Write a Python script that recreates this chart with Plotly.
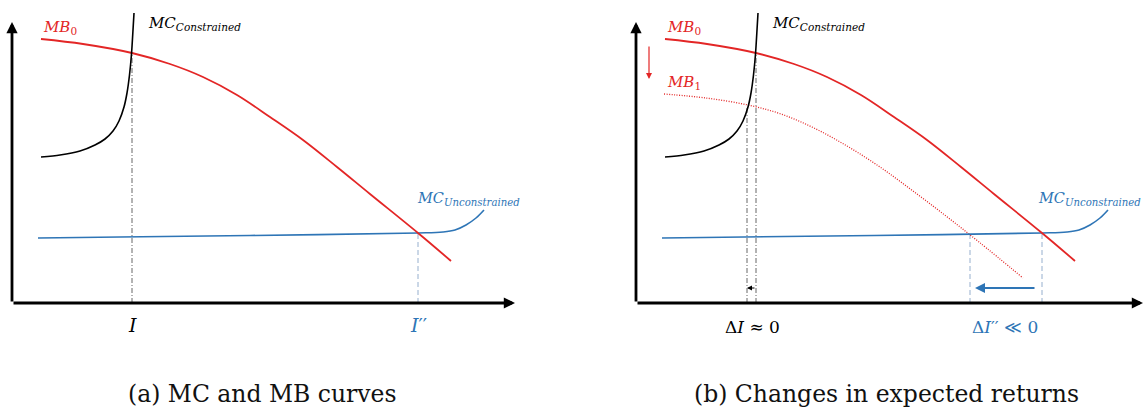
import plotly.graph_objects as go

# ---------------- data (x: investment units, y: value units) ----------------
mc_con_x = [2.9, 4.8, 6.8, 8.3, 9.3, 10.1, 10.7, 11.2, 11.5, 11.75, 11.95, 12.1, 12.2]
mc_con_y = [14.6, 14.8, 15.2, 15.8, 16.4, 17.2, 18.2, 19.6, 21.0, 22.8, 24.9, 27.3, 29.0]

mb0_x = [2.9, 7.1, 12.0, 15.8, 19.1, 22.5, 25.8, 29.1, 32.5, 35.8, 40.6, 43.9]
mb0_y = [26.4, 25.9, 25.0, 23.9, 22.6, 20.8, 18.6, 16.3, 13.6, 10.9, 7.0, 4.2]

mb1_x = [2.8, 7.0, 11.2, 14.5, 17.8, 21.1, 24.4, 27.7, 31.0, 34.3, 38.7]
mb1_y = [20.9, 20.5, 19.8, 18.9, 17.5, 15.7, 13.6, 11.2, 8.7, 6.1, 2.5]

mc_unc_x = [2.6, 10.8, 23.8, 40.6, 43.1, 44.3, 45.4, 46.4, 47.2]
mc_unc_y = [6.5, 6.6, 6.75, 7.0, 7.1, 7.3, 7.8, 8.5, 9.3]

I_a, I_b = 12.0, 11.1          # constrained equilibria (MB0, MB1)
Ipp_a, Ipp_b = 40.6, 33.4      # unconstrained equilibria (MB0, MB1)
mb_at_I_a, mb_at_I_b = 25.0, 19.7
mc_level = 7.0

x_axis_end = [50.3, 50.7]
y_axis_end = 28.1

captions = ["(a) MC and MB curves", "(b) Changes in expected returns"]

RED = "#E32626"
BLUE = "#2E75B6"
BLUE_GUIDE = "#8AA6C8"
GUIDE = "#555555"
SERIF = "DejaVu Serif"

fig = go.Figure()

def line(x, y, color, width, dash="solid", xa="x", ya="y", shape="spline", smooth=1.0):
    fig.add_trace(go.Scatter(x=x, y=y, mode="lines", xaxis=xa, yaxis=ya,
                             line=dict(color=color, width=width, dash=dash, shape=shape,
                                       smoothing=smooth if shape == "spline" else None),
                             hoverinfo="skip", showlegend=False))

DASHDOT = "5px,2px,1px,2px"
DASH = "5px,3px"
DOT = "1px,1.5px"

for k, (xa, ya) in enumerate([("x", "y"), ("x2", "y2")]):
    # guides
    line([I_a, I_a], [0, mb_at_I_a], GUIDE, 0.9, DASHDOT, xa, ya, "linear")
    line([Ipp_a, Ipp_a], [0, mc_level], BLUE_GUIDE, 0.9, DASH, xa, ya, "linear")
    if k == 1:
        line([I_b, I_b], [0, mb_at_I_b], GUIDE, 0.9, DASHDOT, xa, ya, "linear")
        line([Ipp_b, Ipp_b], [0, mc_level], BLUE_GUIDE, 0.9, DASH, xa, ya, "linear")
        line(mb1_x, mb1_y, RED, 1.3, DOT, xa, ya)
    line(mc_unc_x, mc_unc_y, BLUE, 1.6, "solid", xa, ya)
    line(mb0_x, mb0_y, RED, 1.8, "solid", xa, ya)
    line(mc_con_x, mc_con_y, "black", 1.6, "solid", xa, ya, smooth=0.8)

ann = []

def arrow(x0, y0, x1, y1, xr, yr, color, width, size=1.0, head=2):
    ann.append(dict(x=x1, y=y1, ax=x0, ay=y0, xref=xr, yref=yr, axref=xr, ayref=yr,
                    text="", showarrow=True, arrowhead=head, arrowsize=size,
                    arrowwidth=width, arrowcolor=color, standoff=0, startstandoff=0,
                    font=dict(size=10)))

def label(x, y, text, xr, yr, color="black", size=15, xanchor="center", font=SERIF):
    ann.append(dict(x=x, y=y, xref=xr, yref=yr, text=text, showarrow=False,
                    xanchor=xanchor, yanchor="middle",
                    font=dict(family=font, size=size, color=color)))

unc_label_x = [40.3, 40.0]
for k, (xr, yr) in enumerate([("x", "y"), ("x2", "y2")]):
    arrow(0, 0, x_axis_end[k], 0, xr, yr, "black", 2.8, 0.8)
    arrow(0, 0, 0, y_axis_end, xr, yr, "black", 2.8, 0.8)
    label(2.9, 27.6, "<i>MB</i><sub>0</sub>", xr, yr, RED, 15, "left")
    label(13.4, 28.0, "<i>MC</i><sub><i>Constrained</i></sub>", xr, yr, "black", 15, "left")
    label(unc_label_x[k], 10.4, "<i>MC</i><sub><i>Unconstrained</i></sub>", xr, yr, BLUE, 14.5, "left")
    label(25.0, -9.1, captions[k], xr, yr, "#111111", 23.5)

label(I_a, -2.2, "<i>I</i>", "x", "y", "black", 19)
label(Ipp_a, -2.2, "<i>I</i>′′", "x", "y", BLUE, 19)

label(11.6, -2.4, "Δ<i>I</i> ≈ 0", "x2", "y2", "black", 17)
label(36.9, -2.4, "Δ<i>I</i>′′ ≪ 0", "x2", "y2", BLUE, 17)
label(2.9, 22.1, "<i>MB</i><sub>1</sub>", "x2", "y2", RED, 15, "left")

arrow(1.3, 25.8, 1.3, 22.4, "x2", "y2", RED, 1.2, 1.0)
arrow(40.0, 1.5, 33.9, 1.5, "x2", "y2", BLUE, 2.0, 1.0)
arrow(12.0, 1.5, 11.1, 1.5, "x2", "y2", "black", 1.0, 1.0)

fig.update_layout(
    width=1145, height=408,
    margin=dict(l=0, r=0, t=0, b=0),
    paper_bgcolor="white", plot_bgcolor="white",
    annotations=ann,
    xaxis=dict(domain=[0, 0.5], range=[-1.2, 56.05], visible=False, fixedrange=True),
    xaxis2=dict(domain=[0.5, 1], range=[-6.35, 50.9], visible=False, fixedrange=True),
    yaxis=dict(domain=[0, 1], range=[-10.5, 30.3], visible=False, anchor="x", fixedrange=True),
    yaxis2=dict(domain=[0, 1], range=[-10.5, 30.3], visible=False, anchor="x2", fixedrange=True),
)

fig.write_html("out.html", config={"displayModeBar": False},
               post_script="document.body.style.margin='0';document.body.style.overflow='hidden';")
